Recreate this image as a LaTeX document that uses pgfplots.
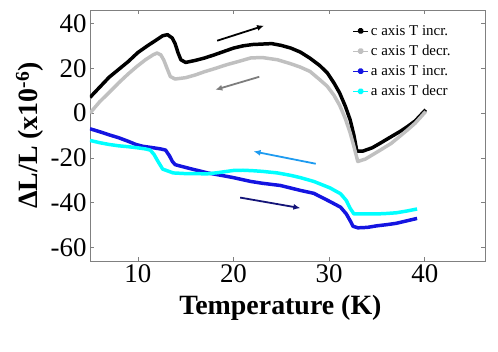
\documentclass[border=0pt]{standalone}
\usepackage{fontspec}
\setmainfont{Liberation Serif}
\usepackage{pgfplots}
\pgfplotsset{compat=1.18}
\usetikzlibrary{arrows.meta}

\definecolor{cgrey}{RGB}{192,192,192}
\definecolor{ablue}{RGB}{20,20,225}
\definecolor{acyan}{RGB}{0,255,255}
\definecolor{arrblue}{RGB}{30,155,240}
\definecolor{arrnavy}{RGB}{20,20,120}
\definecolor{arrgray}{RGB}{125,125,125}
\definecolor{framegray}{RGB}{128,128,128}

\begin{document}
\begin{tikzpicture}
\useasboundingbox (-90bp,-91bp) rectangle (408bp,261bp);
\begin{axis}[
  scale only axis, width=395bp, height=251bp,
  xmin=5, xmax=46.3, ymin=-66, ymax=46,
  xtick={10,20,30,40}, ytick={-60,-40,...,40},
  axis line style={framegray, line width=0.8pt},
  tick style={framegray, line width=0.6pt},
  major tick length=4bp, tick align=inside,
  tick label style={font=\fontsize{27}{27}\selectfont},
  /pgf/number format/assume math mode=true,
  xlabel={\bfseries Temperature (K)},
  ylabel={\bfseries ΔL/L (x10\textsuperscript{-6})},
  label style={font=\fontsize{28}{28}\selectfont},
  xlabel style={at={(axis description cs:0.482,-0.187)}, anchor=center},
  ylabel style={at={(axis description cs:-0.152,0.5)}, anchor=center},
  legend style={at={(axis description cs:0.665,0.95)}, anchor=north west,
    draw=none, fill=none, font=\fontsize{15}{15}\selectfont,
    inner sep=0pt, row sep=3.5bp, nodes={inner sep=2.5bp}},
  legend cell align=left,
  legend image code/.code={
    \draw[#1, line width=0.6pt] (0bp,0bp) -- (15bp,0bp);
    \fill[#1] (7.5bp,0bp) circle (1.5bp);},
  every axis plot/.append style={line width=3.5pt, line join=round},
]
% c axis, T increasing
\addplot[black] coordinates {
 (5,7) (6,11.5) (7,16) (8,19.5) (9,23) (10,27) (11,30) (12,32.8) (12.6,34.5)
 (13.1,35) (13.6,33.5) (13.9,31) (14.2,27) (14.5,23.8) (15,22.6) (16,23.5)
 (17,24.6) (18,26) (19,27.5) (20,29) (21,30) (22,30.6) (23,30.8) (24,31)
 (25,30.2) (26,29) (27,27.2) (28,24.5) (29,21.3) (29.8,18) (30.5,13.5)
 (31.1,9) (31.7,3) (32.2,-3) (32.6,-10) (32.9,-17) (33.5,-17) (34.5,-15.5)
 (35.4,-13.3) (36.5,-10.5) (37.5,-8) (38.2,-6) (39,-3.5) (40.1,1.5)};
% c axis, T decreasing
\addplot[cgrey] coordinates {
 (5,0) (6,5) (7.1,9.6) (8,13.5) (9,17.5) (9.9,20.8) (10.8,23.8) (11.6,26)
 (12,26.8) (12.4,26) (12.7,23.8) (13.1,19.5) (13.4,16.3) (13.9,15.2) (15,15.8)
 (16,17) (17,18.5) (18,19.8) (19.3,21.6) (20.5,23) (21.8,24.6) (23,24.8)
 (24.6,23.8) (26,22) (27,20.5) (28,18.6) (29,15) (29.8,12) (30.5,8)
 (31.1,3.5) (31.7,-2.5) (32.2,-8.8) (32.6,-15) (33,-21.6) (33.8,-20.5)
 (35.4,-16.4) (36.5,-13.5) (38.2,-7.5) (39,-4.5) (40.1,0.7)};
% a axis, T increasing
\addplot[ablue] coordinates {
 (5,-7) (6,-8.3) (7,-9.7) (8,-11) (9,-12.6) (9.8,-14) (10.5,-14.8)
 (11.5,-15.4) (12.4,-16) (12.9,-16.5) (13.3,-19) (13.6,-21.5) (13.9,-23)
 (14.5,-23.7) (15.5,-24.8) (17.3,-26.7) (19,-28) (20,-28.8) (21.8,-30.5)
 (23,-31.3) (24.9,-32.3) (27,-34.5) (28.4,-35.8) (30.1,-39.5) (31.2,-42)
 (31.8,-45) (32.2,-48) (32.5,-50.5) (33,-51.2) (34,-51) (35,-50.3)
 (36,-49.8) (37,-49.2) (38,-48.2) (39.2,-47)};
% a axis, T decreasing
\addplot[acyan] coordinates {
 (5,-12.2) (6,-13.2) (7,-14) (8,-14.6) (9,-15) (10,-15.5) (10.8,-16)
 (11.3,-16.5) (11.7,-18.5) (12.1,-21.5) (12.6,-25) (13.7,-26.7) (15,-27)
 (17.3,-27.1) (18.5,-26.5) (20,-25.6) (21,-25.5) (22,-25.7) (23,-26)
 (24.6,-26.7) (26,-27.8) (27,-28.8) (28.4,-30.5) (30.1,-33.4) (31.2,-36)
 (31.8,-39) (32.2,-42.5) (32.6,-45) (33.5,-45) (35,-45) (36,-44.8)
 (37,-44.5) (38,-43.8) (39.2,-42.8)};
\legend{c axis T incr., c axis T decr., a axis T incr., a axis T decr}
% direction arrows
\draw[black, line width=1.8pt, -{Latex[length=7bp,width=6bp]}] (axis cs:18.3,32.3) -- (axis cs:23.2,39);
\draw[arrgray, line width=1.8pt, -{Latex[length=7bp,width=6bp]}] (axis cs:22.7,16.2) -- (axis cs:18.1,10.4);
\draw[arrblue, line width=1.8pt, -{Latex[length=7bp,width=6bp]}] (axis cs:28.6,-22.6) -- (axis cs:22.1,-17.1);
\draw[arrnavy, line width=1.8pt, -{Latex[length=7bp,width=6bp]}] (axis cs:20.7,-37.7) -- (axis cs:27,-42.4);
\end{axis}
\end{tikzpicture}
\end{document}
